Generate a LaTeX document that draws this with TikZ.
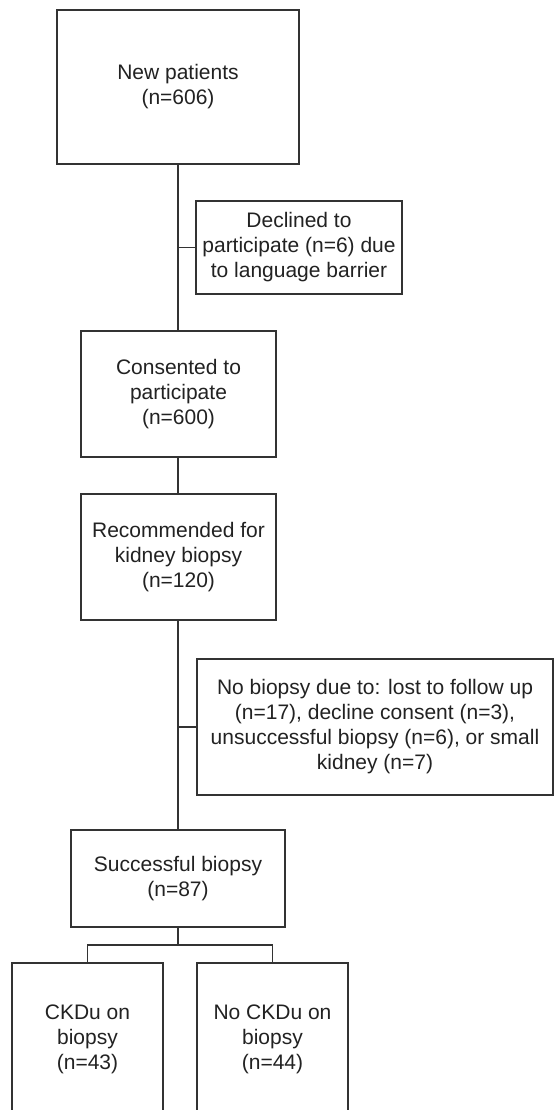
\documentclass[tikz,border=0pt]{standalone}
\usepackage{fontspec}
\setmainfont{Liberation Sans}
\definecolor{linec}{HTML}{333333}
\definecolor{textc}{HTML}{222222}
\tikzset{
  flowbox/.style={draw=linec, line width=1.1pt, rectangle, inner sep=0pt, align=center,
    text=textc, font=\fontsize{21}{25}\selectfont},
  conn/.style={draw=linec, line width=1.1pt}
}
\begin{document}
\begin{tikzpicture}[x=1pt, y=-1pt]
\clip (0,0) rectangle (554,1110);
\fill[white] (0,0) rectangle (554,1110);
\node[flowbox, minimum width=242pt, minimum height=154pt] (n1) at (178,87) {New patients\\(n=606)};
\node[flowbox, minimum width=206pt, minimum height=93pt] (decl) at (299,247.5) {Declined to\\participate (n=6) due\\to language barrier};
\node[flowbox, minimum width=195pt, minimum height=126pt] (cons) at (178.5,394) {Consented to\\participate\\(n=600)};
\node[flowbox, minimum width=195pt, minimum height=126pt] (rec) at (178.5,557) {Recommended for\\kidney biopsy\\(n=120)};
\node[flowbox, minimum width=356pt, minimum height=136pt] (nob) at (375,727) {No biopsy due to: lost to follow up\\(n=17), decline consent (n=3),\\unsuccessful biopsy (n=6), or small\\kidney (n=7)};
\node[flowbox, minimum width=214pt, minimum height=97pt] (succ) at (178,878.5) {Successful biopsy\\(n=87)};
\node[flowbox, minimum width=151pt, minimum height=152pt] (ckdu) at (87.5,1039) {CKDu on\\biopsy\\(n=43)};
\node[flowbox, minimum width=151pt, minimum height=152pt] (nockdu) at (272.5,1039) {No CKDu on\\biopsy\\(n=44)};
\coordinate (split) at (178,945);
\draw[conn] (n1.south -| 178,0) -- (cons.north -| 178,0);
\draw[conn] (decl.west) -- (decl.west -| 178,0);
\draw[conn] (cons.south -| 178,0) -- (rec.north -| 178,0);
\draw[conn] (rec.south -| 178,0) -- (succ.north -| 178,0);
\draw[conn] (nob.west) -- (nob.west -| 178,0);
\draw[conn] (succ.south -| 178,0) -- (split);
\draw[conn] (ckdu.north) |- (split) -| (nockdu.north);
\end{tikzpicture}
\end{document}
